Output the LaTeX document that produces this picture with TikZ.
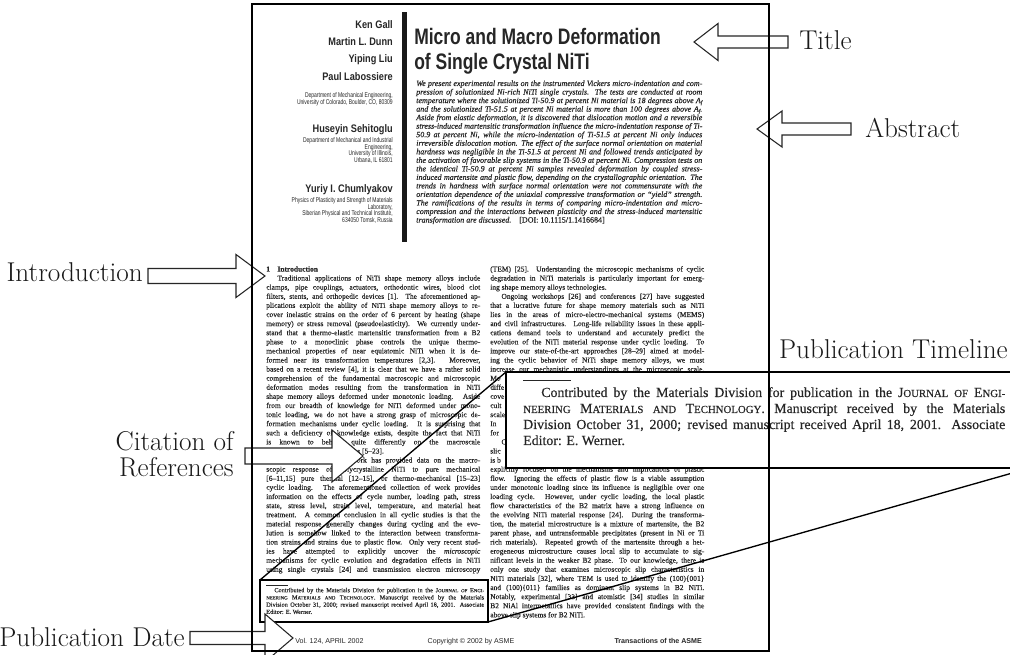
\documentclass[tikz,border=0pt]{standalone}
\usepackage{fontspec}
\usepackage{graphicx}
\newfontfamily\pgserif[FakeBold=0.35]{Liberation Serif}
\newfontfamily\pgsans{Liberation Sans}

% ---------- line-by-line typesetting helpers ----------
\newdimen\lineind
\newcommand\Lj[1]{\hbox to\hsize{#1}}
\newcommand\Li[1]{\hbox to\hsize{\hskip\lineind #1}}
\newcommand\Le[1]{\hbox to\hsize{#1\hfil}}
\newcommand\Lie[1]{\hbox to\hsize{\hskip\lineind #1\hfil}}
% #1 width, #2 font commands, #3 leading, #4 indent (em), #5 lines
\newcommand\textblock[5]{\vtop{\hsize=#1\relax #2\baselineskip=#3\relax
  \lineskiplimit=-50pt\lineskip=0pt\parindent=0pt\lineind=#4em\relax
  \spaceskip=.25em plus 1.5em minus .12em\relax #5}}
\newcommand\Af{A\raisebox{-0.3ex}{\fontsize{4pt}{4pt}\selectfont f}}
\newcommand\fsc[2]{#1{\fontsize{8.1pt}{8pt}\selectfont #2}}
\newcommand\rlines[2]{\vtop{\baselineskip=#1\relax\lineskiplimit=-50pt\lineskip=0pt
  \halign{\hfil##\cr#2\crcr}}}
\newcommand\authname[1]{\pgsans\bfseries\fontsize{8.2pt}{9pt}\selectfont\scalebox{0.84}[1]{#1}}
\newcommand\affil[1]{\pgsans\fontsize{5.2pt}{5pt}\selectfont\scalebox{0.72}[1]{\rlines{4.9pt}{#1}}}

% footnote with the editorial dates
\newcommand\fnote{\textblock{361.5pt}{\pgserif\fontsize{10.4pt}{12pt}\selectfont}{12pt}{1.3}{%
  \hbox{\vrule width 36pt height 0.7pt depth 0pt}%
  \Li{Contributed by the Materials Division for publication in the \fsc{J}{OURNAL} \fsc{}{OF} \fsc{E}{NGI-}}%
  \Lj{\fsc{}{NEERING} \fsc{M}{ATERIALS} \fsc{}{AND} \fsc{T}{ECHNOLOGY}. Manuscript received by the Materials}%
  \Lj{Division October 31, 2000; revised manuscript received April 18, 2001. Associate}%
  \Le{Editor: E. Werner.}}}

% block arrow: tail x, head-back x, tip x, y, shaft half height, head half height
\newcommand\barrow[6]{\filldraw[arrowshape] (#1,#4-#5) -- (#2,#4-#5) -- (#2,#4-#6) -- (#3,#4)
  -- (#2,#4+#6) -- (#2,#4+#5) -- (#1,#4+#5) -- cycle;}

\begin{document}
\begin{tikzpicture}[x=0.75pt,y=-0.75pt,
  pageline/.style={line width=1pt,draw=black},
  boxline/.style={line width=1.1pt,draw=black},
  calloutline/.style={line width=1pt,draw=black},
  arrowshape/.style={draw=black!85,line width=0.8pt,fill=white,line join=miter},
  callout/.style={font=\fontsize{20.4pt}{24pt}\selectfont,inner sep=0pt,text=black!90},
  pagetext/.style={inner sep=0pt,text=black!85}]

\useasboundingbox (0,0) rectangle (1010,655);
\fill[white] (0,0) rectangle (1010,655);

% ================= journal page =================
% title
\node[pagetext,anchor=base west] (title1) at (414,45)
  {\pgsans\bfseries\fontsize{16.8pt}{18pt}\selectfont\scalebox{0.78}[1]{Micro and Macro Deformation}};
\node[pagetext,anchor=base west] (title2) at (414,70)
  {\pgsans\bfseries\fontsize{16.8pt}{18pt}\selectfont\scalebox{0.78}[1]{of Single Crystal NiTi}};
% vertical bar
\fill[black!90] (402,12) rectangle (406.5,242);

% authors
\node[pagetext,anchor=base east] (au1) at (393,29) {\authname{Ken Gall}};
\node[pagetext,anchor=base east] (au2) at (393,46) {\authname{Martin L. Dunn}};
\node[pagetext,anchor=base east] (au3) at (393,63) {\authname{Yiping Liu}};
\node[pagetext,anchor=base east] (au4) at (393,80.5) {\authname{Paul Labossiere}};
\node[pagetext,anchor=base east] (af1) at (393,98)
  {\affil{Department of Mechanical Engineering,\cr University of Colorado, Boulder, CO, 80309}};
\node[pagetext,anchor=base east] (au5) at (393,133) {\authname{Huseyin Sehitoglu}};
\node[pagetext,anchor=base east] (af2) at (393,142.5)
  {\affil{Department of Mechanical and Industrial\cr Engineering,\cr University of Illinois,\cr Urbana, IL 61801}};
\node[pagetext,anchor=base east] (au6) at (393,193) {\authname{Yuriy I. Chumlyakov}};
\node[pagetext,anchor=base east] (af3) at (393,202.5)
  {\affil{Physics of Plasticity and Strength of Materials\cr Laboratory,\cr Siberian Physical and Technical Institute,\cr 634050 Tomsk, Russia}};

% abstract
\node[pagetext,anchor=base west] (abstract) at (416,86)
  {\textblock{214.5pt}{\pgserif\itshape\fontsize{6pt}{6.4pt}\selectfont}{6.4pt}{1.5}{%
  \Lj{We present experimental results on the instrumented Vickers micro-indentation and com-}%
  \Lj{pression of solutionized Ni-rich NiTi single crystals. The tests are conducted at room}%
  \Lj{temperature where the solutionized Ti-50.9 at percent Ni material is 18 degrees above \Af}%
  \Lj{and the solutionized Ti-51.5 at percent Ni material is more than 100 degrees above \Af.}%
  \Lj{Aside from elastic deformation, it is discovered that dislocation motion and a reversible}%
  \Lj{stress-induced martensitic transformation influence the micro-indentation response of Ti-}%
  \Lj{50.9 at percent Ni, while the micro-indentation of Ti-51.5 at percent Ni only induces}%
  \Lj{irreversible dislocation motion. The effect of the surface normal orientation on material}%
  \Lj{hardness was negligible in the Ti-51.5 at percent Ni and followed trends anticipated by}%
  \Lj{the activation of favorable slip systems in the Ti-50.9 at percent Ni. Compression tests on}%
  \Lj{the identical Ti-50.9 at percent Ni samples revealed deformation by coupled stress-}%
  \Lj{induced martensite and plastic flow, depending on the crystallographic orientation. The}%
  \Lj{trends in hardness with surface normal orientation were not commensurate with the}%
  \Lj{orientation dependence of the uniaxial compressive transformation or “yield” strength.}%
  \Lj{The ramifications of the results in terms of comparing micro-indentation and micro-}%
  \Lj{compression and the interactions between plasticity and the stress-induced martensitic}%
  \Le{transformation are discussed.\quad{\upshape [DOI: 10.1115/1.1416684]}}}};

% left column
\node[pagetext,anchor=base west] (leftcol) at (266,271.5)
  {\textblock{160.5pt}{\pgserif\fontsize{5.6pt}{6.825pt}\selectfont}{6.825pt}{1.5}{%
  \Le{\bfseries 1\quad Introduction}%
  \Li{Traditional applications of NiTi shape memory alloys include}%
  \Lj{clamps, pipe couplings, actuators, orthodontic wires, blood clot}%
  \Lj{filters, stents, and orthopedic devices [1]. The aforementioned ap-}%
  \Lj{plications exploit the ability of NiTi shape memory alloys to re-}%
  \Lj{cover inelastic strains on the order of 6 percent by heating (shape}%
  \Lj{memory) or stress removal (pseudoelasticity). We currently under-}%
  \Lj{stand that a thermo-elastic martensitic transformation from a B2}%
  \Lj{phase to a monoclinic phase controls the unique thermo-}%
  \Lj{mechanical properties of near equiatomic NiTi when it is de-}%
  \Lj{formed near its transformation temperatures [2,3]. Moreover,}%
  \Lj{based on a recent review [4], it is clear that we have a rather solid}%
  \Lj{comprehension of the fundamental macroscopic and microscopic}%
  \Lj{deformation modes resulting from the transformation in NiTi}%
  \Lj{shape memory alloys deformed under monotonic loading. Aside}%
  \Lj{from our breadth of knowledge for NiTi deformed under mono-}%
  \Lj{tonic loading, we do not have a strong grasp of microscopic de-}%
  \Lj{formation mechanisms under cyclic loading. It is surprising that}%
  \Lj{such a deficiency of knowledge exists, despite the fact that NiTi}%
  \Lj{is known to behave quite differently on the macroscale}%
  \Le{under cyclic loading conditions [5–23].}%
  \Li{Previous experimental work has provided data on the macro-}%
  \Lj{scopic response of polycrystalline NiTi to pure mechanical}%
  \Lj{[6–11,15] pure thermal [12–15], or thermo-mechanical [15–23]}%
  \Lj{cyclic loading. The aforementioned collection of work provides}%
  \Lj{information on the effects of cycle number, loading path, stress}%
  \Lj{state, stress level, strain level, temperature, and material heat}%
  \Lj{treatment. A common conclusion in all cyclic studies is that the}%
  \Lj{material response generally changes during cycling and the evo-}%
  \Lj{lution is somehow linked to the interaction between transforma-}%
  \Lj{tion strains and strains due to plastic flow. Only very recent stud-}%
  \Lj{ies have attempted to explicitly uncover the \textit{microscopic}}%
  \Lj{mechanisms for cyclic evolution and degradation effects in NiTi}%
  \Lj{using single crystals [24] and transmission electron microscopy}}};

% right column
\node[pagetext,anchor=base west] (rightcol) at (490,271.5)
  {\textblock{160.5pt}{\pgserif\fontsize{5.6pt}{6.825pt}\selectfont}{6.825pt}{1.5}{%
  \Lj{(TEM) [25]. Understanding the microscopic mechanisms of cyclic}%
  \Lj{degradation in NiTi materials is particularly important for emerg-}%
  \Le{ing shape memory alloys technologies.}%
  \Li{Ongoing workshops [26] and conferences [27] have suggested}%
  \Lj{that a lucrative future for shape memory materials such as NiTi}%
  \Lj{lies in the areas of micro-electro-mechanical systems (MEMS)}%
  \Lj{and civil infrastructures. Long-life reliability issues in these appli-}%
  \Lj{cations demand tools to understand and accurately predict the}%
  \Lj{evolution of the NiTi material response under cyclic loading. To}%
  \Lj{improve our state-of-the-art approaches [28–29] aimed at model-}%
  \Lj{ing the cyclic behavior of NiTi shape memory alloys, we must}%
  \Lj{increase our mechanistic understandings at the microscopic scale.}%
  \Le{Mo}\Le{diffe}\Le{cove}\Le{cult}\Le{scale}\Le{In}\Le{for}%
  \Lie{O}\Le{slic}\Le{is b}%
  \Lj{explicitly focused on the mechanisms and implications of plastic}%
  \Lj{flow. Ignoring the effects of plastic flow is a viable assumption}%
  \Lj{under monotonic loading since its influence is negligible over one}%
  \Lj{loading cycle. However, under cyclic loading, the local plastic}%
  \Lj{flow characteristics of the B2 matrix have a strong influence on}%
  \Lj{the evolving NiTi material response [24]. During the transforma-}%
  \Lj{tion, the material microstructure is a mixture of martensite, the B2}%
  \Lj{parent phase, and untransformable precipitates (present in Ni or Ti}%
  \Lj{rich materials). Repeated growth of the martensite through a het-}%
  \Lj{erogeneous microstructure causes local slip to accumulate to sig-}%
  \Lj{nificant levels in the weaker B2 phase. To our knowledge, there is}%
  \Lj{only one study that examines microscopic slip characteristics in}%
  \Lj{NiTi materials [32], where TEM is used to identify the (100)\{001\}}%
  \Lj{and (100)\{011\} families as dominant slip systems in B2 NiTi.}%
  \Lj{Notably, experimental [33] and atomistic [34] studies in similar}%
  \Lj{B2 NiAl intermetallics have provided consistent findings with the}%
  \Le{above slip systems for B2 NiTi.}}};

% footnote on the page
\node[pagetext,anchor=base west] (smallfn) at (266,585) {\scalebox{0.452}{\fnote}};

% running foot
\node[pagetext,anchor=base west] (footvol) at (295,643.5)
  {\pgsans\fontsize{5.3pt}{6pt}\selectfont Vol. 124, APRIL 2002};
\node[pagetext,anchor=base] (footcopy) at (471,643.5)
  {\pgsans\fontsize{5.3pt}{6pt}\selectfont Copyright \textcopyright\ 2002 by ASME};
\node[pagetext,anchor=base east] (foottrans) at (702,643.5)
  {\pgsans\bfseries\fontsize{5.3pt}{6pt}\selectfont Transactions of the ASME};

% ================= enlarged footnote callout =================
\coordinate (sbnw) at (260,580);
\coordinate (sbse) at (488,622);
\coordinate (bbnw) at (506,372);
\coordinate (bbse) at (1030,468);
\draw[boxline] (sbnw) rectangle (sbse);
\draw[boxline,fill=white] (bbnw) rectangle (bbse);
\node[anchor=base west,inner sep=0pt,text=black!85] (bigfn) at (523,381) {\fnote};
\draw[calloutline] (sbnw) -- (bbnw);
\draw[calloutline] (sbse) -- (bbse);

% ================= block arrows =================
\barrow{788}{718}{694}{42}{6}{18.5}
\barrow{851}{782}{757}{129}{6}{18}
\barrow{148}{236}{265}{276}{7.5}{21.5}
\barrow{245}{332}{363}{456}{8}{26}
\barrow{190}{265}{293}{638}{6.5}{24}

% page outline
\draw[pageline] (252,4) rectangle (769,651);

% ================= labels =================
\node[callout,anchor=base west] (lbltitle) at (799,50) {Title};
\node[callout,anchor=base west] (lblabstract) at (865,138) {Abstract};
\node[callout,anchor=base east] (lblintro) at (143,282) {Introduction};
\node[callout,anchor=base east] (lblcite) at (234,451) {\rlines{19pt}{Citation of\cr References}};
\node[callout,anchor=base east] (lbltimeline) at (1008,359) {Publication Timeline};
\node[callout,anchor=base east] (lbldate) at (185,646) {Publication Date};
\end{tikzpicture}
\end{document}
